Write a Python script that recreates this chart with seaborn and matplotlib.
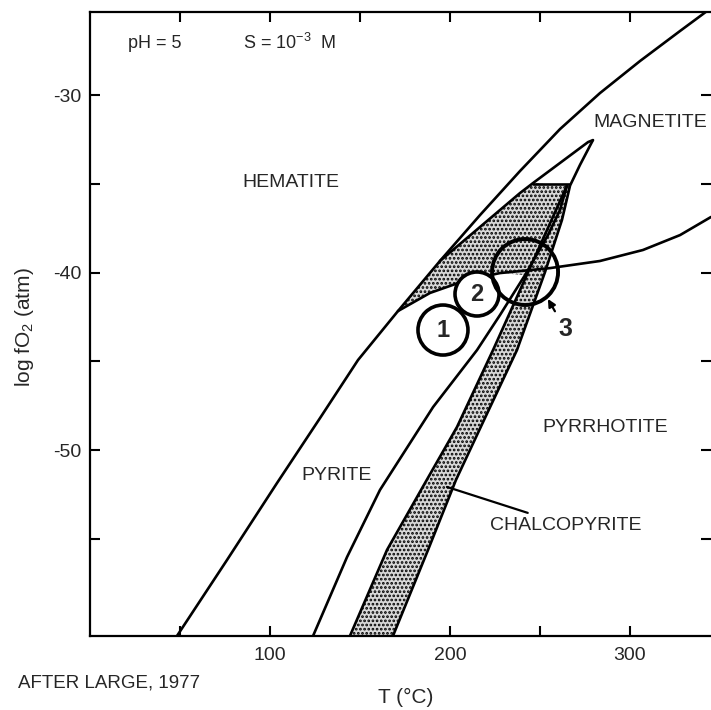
import matplotlib
matplotlib.use("Agg")
import matplotlib.pyplot as plt
import seaborn as sns
import numpy as np

# ---------------- data (T in °C, log fO2 in atm) ----------------
# hematite boundary (outer curve)
A_T = [48.3, 76.1, 103.9, 127.8, 148.9, 171.1, 194.4, 216.7, 238.9, 261.1, 283.3, 305.6, 327.8, 345.0]
A_Y = [-60.48, -56.20, -51.86, -48.20, -44.93, -42.17, -39.35, -36.76, -34.28, -31.92, -29.89, -28.08, -26.39, -25.10]
# upper limb of the pointed pyrite lens
B_T = [194.4, 238.9, 246.1, 276.7, 279.4]
B_Y = [-39.35, -35.52, -34.96, -32.65, -32.54]
# right limb from the tip down (= right edge of chalcopyrite band)
C_T = [279.4, 272.2, 266.7, 262.2, 252.8, 237.2, 218.9, 203.3, 187.8, 168.3]
C_Y = [-32.54, -33.94, -35.10, -37.04, -39.97, -44.37, -48.31, -51.69, -55.63, -60.48]
# left edge of chalcopyrite band
BAND_T = [265.0, 238.9, 223.9, 203.9, 186.1, 165.0, 144.4]
BAND_Y = [-35.10, -40.99, -44.37, -48.70, -51.86, -55.63, -60.48]
# pyrite / pyrrhotite boundary
D_T = [265.0, 261.1, 254.4, 241.7, 227.8, 215.0, 190.6, 161.1, 142.8, 123.9]
D_Y = [-35.10, -36.48, -37.89, -40.14, -42.39, -44.37, -47.58, -52.25, -56.03, -60.48]
# lower boundary of stippled field / magnetite-pyrrhotite boundary
L2_T = [171.1, 188.9, 209.4, 227.8, 255.6, 283.3, 307.2, 327.8, 345.0]
L2_Y = [-42.17, -41.15, -40.42, -40.03, -39.75, -39.35, -38.73, -37.89, -36.87]
# upper cut-off of the stippled field
TOP_T = [246.1, 266.0]
TOP_Y = [-35.0, -35.0]

# numbered circles
CIRC_T = [196.1, 215.0, 241.7]
CIRC_Y = [-43.24, -41.21, -39.97]
CIRC_LABELS = ["1", "2", "3"]

FIELD_LABELS = ["HEMATITE", "MAGNETITE", "PYRRHOTITE", "PYRITE"]
FIELD_T = [111.7, 311.0, 286.1, 137.2]
FIELD_Y = [-34.90, -31.52, -48.76, -51.41]

X_TICKS = [100, 200, 300]
Y_TICKS = [-50, -40, -30]

# ---------------- style ----------------
sns.set_style("ticks")
plt.rcParams["font.family"] = ["Liberation Sans", "DejaVu Sans"]
plt.rcParams["mathtext.default"] = "regular"
plt.rcParams["axes.unicode_minus"] = False
plt.rcParams["hatch.linewidth"] = 1.3
plt.rcParams["hatch.color"] = "black"

fig = plt.figure(figsize=(7.11, 7.10), dpi=100)
ax = fig.add_axes([90 / 711, 1 - 636 / 710, 621 / 711, 624 / 710])
ax.set_xlim(0, 345)
ax.set_ylim(-60.48, -25.32)

LW = 1.9
# stippled fields
poly1_T = A_T[5:7] + B_T[1:3] + D_T[0:4] + L2_T[3::-1]
poly1_Y = A_Y[5:7] + B_Y[1:3] + D_Y[0:4] + L2_Y[3::-1]
ax.fill(poly1_T, poly1_Y, facecolor="#d8d8d8", edgecolor="black", hatch="....", linewidth=0, zorder=1)
poly2_T = BAND_T + C_T[9:1:-1]
poly2_Y = BAND_Y + C_Y[9:1:-1]
ax.fill(poly2_T, poly2_Y, facecolor="#d8d8d8", edgecolor="black", hatch="....", linewidth=0, zorder=1)

for xs, ys in [(A_T, A_Y), (B_T, B_Y), (C_T, C_Y), (BAND_T, BAND_Y),
               (D_T, D_Y), (L2_T, L2_Y), (TOP_T, TOP_Y)]:
    sns.lineplot(x=xs, y=ys, sort=False, estimator=None, color="black",
                 linewidth=LW, ax=ax, zorder=3)

# circles
diam_pts = [50 * 0.72, 44 * 0.72, 66 * 0.72]
ax.scatter(CIRC_T[:2], CIRC_Y[:2], s=[d ** 2 for d in diam_pts[:2]],
           facecolor="white", edgecolor="black", linewidth=2.6, zorder=5)
ax.scatter(CIRC_T[2:], CIRC_Y[2:], s=[diam_pts[2] ** 2],
           facecolor="none", edgecolor="black", linewidth=2.8, zorder=5)
for t, y, lab in zip(CIRC_T[:2], CIRC_Y[:2], CIRC_LABELS[:2]):
    ax.text(t, y, lab, ha="center", va="center", fontsize=17, fontweight="bold", zorder=6)
ax.annotate(CIRC_LABELS[2], xy=(254.4, -41.49), xytext=(263.9, -43.18),
            ha="center", va="center", fontsize=18, fontweight="bold",
            arrowprops=dict(arrowstyle="-|>", color="black", lw=1.6,
                            mutation_scale=11, shrinkA=2, shrinkB=0), zorder=6)

# field labels
for lab, t, y in zip(FIELD_LABELS, FIELD_T, FIELD_Y):
    ax.text(t, y, lab, ha="center", va="center", fontsize=14)
ax.annotate("CHALCOPYRITE", xy=(198.3, -52.08), xytext=(222.2, -54.23),
            ha="left", va="center", fontsize=14,
            arrowprops=dict(arrowstyle="-", color="black", lw=1.6, shrinkA=1, shrinkB=0))

ax.text(21.1, -27.07, "pH = 5", ha="left", va="center", fontsize=13)
ax.text(85.0, -27.07, "S = 10$^{-3}$  M", ha="left", va="center", fontsize=13)

# axes
ax.set_xticks(X_TICKS)
ax.set_xticks([50, 150, 250], minor=True)
ax.set_yticks(Y_TICKS)
ax.set_yticks([-55, -45, -35], minor=True)
ax.set_xticklabels([str(v) for v in X_TICKS])
ax.set_yticklabels([str(v) for v in Y_TICKS])
ax.tick_params(which="both", direction="in", top=True, right=True, length=7,
               width=1.5, color="black", labelsize=14)
ax.tick_params(axis="x", pad=8)
ax.tick_params(axis="y", pad=6)
for s in ["left", "top", "bottom"]:
    ax.spines[s].set_linewidth(1.6)
    ax.spines[s].set_color("black")
ax.spines["right"].set_visible(False)

ax.set_xlabel("T (°C)", fontsize=15, va="center")
ax.xaxis.set_label_coords(0.509, -0.0978)
ax.set_ylabel("log fO$_2$ (atm)", fontsize=15, va="center")
ax.yaxis.set_label_coords(-0.105, 0.495)

fig.text(18 / 711, 1 - 683 / 710, "AFTER LARGE, 1977", ha="left", va="center", fontsize=13.5)

fig.savefig("out.png", dpi=100)
